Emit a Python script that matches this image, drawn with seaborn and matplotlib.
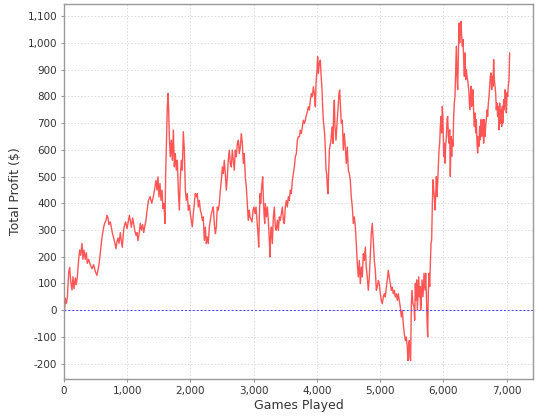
import matplotlib
matplotlib.use("Agg")
import matplotlib.pyplot as plt
import matplotlib.ticker as mticker
import seaborn as sns

# values (games played vs running profit in $)
games = [
    0, 21, 37, 53, 74, 90, 105, 126, 142, 158, 179, 195, 211, 232, 248, 264, 285, 300, 316, 337,
    353, 369, 390, 416, 443, 469, 495, 522, 538, 559, 574, 590, 606, 627, 643, 664, 680, 696, 711, 733,
    748, 764, 785, 801, 822, 838, 854, 870, 891, 906, 922, 943, 959, 975, 996, 1012, 1033, 1049, 1064, 1086,
    1101, 1117, 1138, 1154, 1170, 1191, 1207, 1223, 1244, 1260, 1275, 1296, 1312, 1335, 1361, 1388, 1414,
    1439, 1455, 1471, 1486, 1502, 1518, 1534, 1550, 1565, 1581, 1597, 1608, 1623, 1634, 1645, 1655, 1666, 1681, 1697, 1713,
    1729, 1745, 1760, 1776, 1792, 1808, 1824, 1840, 1855, 1871, 1887, 1903, 1919, 1934, 1950, 1966, 1982, 1998, 2013, 2029,
    2045, 2061, 2077, 2092, 2108, 2124, 2140, 2156, 2172, 2187, 2203, 2219, 2235, 2251, 2266, 2282, 2298, 2314, 2330, 2345,
    2361, 2377, 2393, 2409, 2424, 2440, 2456, 2472, 2488, 2504, 2519, 2535, 2551, 2567, 2583, 2598, 2614, 2630, 2646, 2662,
    2677, 2693, 2709, 2725, 2741, 2757, 2772, 2788, 2804, 2820, 2836, 2851, 2867, 2883, 2899, 2914, 2930, 2941,
    2973, 2989, 3005, 3021, 3036, 3052, 3068, 3079, 3089, 3100, 3110, 3126, 3142, 3152, 3163, 3174, 3184, 3200, 3216, 3231,
    3247, 3258, 3268, 3279, 3295, 3311, 3326, 3342, 3358, 3374, 3390, 3405, 3421, 3437, 3453, 3469, 3484, 3500, 3516, 3532,
    3548, 3563, 3579, 3595, 3611, 3627, 3643, 3658, 3674, 3690, 3706, 3722, 3737, 3753, 3769, 3785, 3801, 3816, 3832, 3848,
    3864, 3880, 3895, 3911, 3927, 3943, 3959, 3975, 3985, 4001, 4011, 4022, 4038, 4054, 4064, 4080, 4090, 4101, 4112, 4122,
    4133, 4143, 4154, 4164, 4175, 4185, 4196,
    4222, 4238, 4253, 4264, 4275, 4285, 4301, 4317, 4332, 4348, 4359, 4369, 4385, 4401, 4417, 4433, 4448, 4464, 4480, 4496,
    4512, 4527, 4543, 4559, 4575, 4591, 4607, 4622, 4638, 4654, 4670, 4686, 4701, 4717, 4733, 4749, 4765, 4780, 4796, 4812,
    4828, 4844, 4859, 4875, 4891, 4907, 4923, 4939, 4954, 4970, 4986, 5002, 5018, 5033, 5049, 5065, 5081, 5097, 5112, 5128,
    5144, 5160, 5176, 5191, 5207, 5223, 5239, 5255, 5271, 5286, 5302, 5318, 5334, 5350, 5365, 5381, 5397, 5413, 5429, 5439,
    5450, 5460, 5471, 5481, 5492, 5502, 5518,
    5535, 5545, 5556, 5566, 5577, 5588, 5598, 5609, 5619, 5630, 5640, 5651, 5661, 5677, 5693, 5709, 5719, 5730, 5740, 5751,
    5761, 5772, 5783, 5793, 5804, 5814, 5825, 5835, 5846, 5856, 5867, 5877, 5888, 5898, 5909, 5920, 5930, 5941, 5951, 5962,
    5972, 5983, 5993, 6004, 6014, 6025, 6035, 6046, 6057, 6067, 6078, 6088, 6099, 6109, 6120, 6130, 6141, 6151, 6162, 6172,
    6183, 6194, 6204, 6215, 6225, 6236, 6246, 6257, 6267, 6278, 6288, 6299, 6310, 6320, 6331, 6341, 6352, 6362, 6373, 6389,
    6404, 6415, 6425, 6436, 6447, 6457, 6468, 6478, 6489, 6499, 6510, 6520, 6531, 6541, 6552, 6562, 6573, 6584, 6594, 6605,
    6615, 6626, 6636, 6647, 6657, 6668, 6678, 6689, 6699, 6710, 6721, 6731, 6742, 6752, 6763, 6773, 6784, 6794, 6805, 6815,
    6826, 6836, 6847, 6857, 6868, 6878, 6889, 6900, 6910, 6921, 6931, 6942, 6952, 6963, 6973, 6984, 6995, 7005, 7016, 7026,
    7037, 7047,
]
profit = [
    -30, 45, 25, 45, 140, 160, 110, 75, 125, 80, 120, 95, 125, 190, 225, 205, 250, 190, 225, 190,
    215, 175, 190, 170, 155, 170, 145, 130, 150, 180, 215, 250, 280, 310, 325, 335, 355, 345, 320, 330,
    310, 290, 270, 255, 230, 255, 270, 250, 290, 260, 235, 300, 320, 330, 305, 325, 355, 335, 310, 345,
    325, 300, 280, 290, 260, 290, 325, 300, 320, 290, 310, 335, 370, 410, 425, 400, 425,
    461, 486, 449, 499, 424, 474, 411, 449, 380, 399, 324, 511, 649, 761, 811, 749, 649, 574, 636, 561,
    674, 536, 586, 524, 561, 449, 374, 499, 561, 524, 668, 599, 449, 411, 436, 374, 393, 361, 336, 311,
    361, 399, 436, 424, 436, 386, 411, 374, 361, 336, 349, 261, 311, 249, 274, 249, 311, 336, 361, 374,
    386, 324, 286, 311, 386, 374, 399, 449, 486, 536, 511, 561, 511, 449, 499, 561, 599, 549, 536, 599,
    561, 524, 599, 574, 624, 636, 586, 611, 661, 624, 549, 586, 499, 461, 399, 336, 374, 349,
    330, 374, 386, 361, 386, 336, 286, 236, 349, 436, 399, 461, 499, 424, 361, 324, 399, 349, 386, 336,
    261, 199, 286, 311, 249, 349, 386, 311, 299, 336, 299, 349, 336, 361, 386, 336, 324, 386, 411, 386,
    424, 411, 449, 436, 486, 511, 536, 574, 586, 636, 649, 649, 674, 661, 686, 711, 699, 711, 730, 742,
    761, 749, 786, 811, 799, 836, 811, 761, 849, 899, 949, 886, 924, 936, 886, 824, 761, 711, 686, 661,
    599, 524, 511, 461, 436, 511, 599,
    636, 686, 624, 736, 786, 686, 636, 699, 749, 811, 824, 774, 699, 711, 599, 661, 611, 549, 611, 524,
    511, 486, 424, 386, 324, 349, 311, 249, 174, 124, 186, 99, 161, 124, 211, 186, 236, 161, 124, 74,
    124, 211, 286, 324, 261, 186, 149, 74, 86, 111, 99, 61, 36, 24, 49, 61, 49, 86, 111, 149,
    124, 99, 74, 86, 61, 74, 49, 61, 36, 61, 36, 11, -26, -1, -51, -89, -114, -101, -139, -189,
    -139, -114, -176, -189, 11, 74, 24,
    13, -38, 100, 38, 113, 0, 63, 125, 50, 88, 0, 38, 113, 50, 138, 75, 138, 63, -38, -100,
    63, 138, 88, 175, 250, 263, 400, 488, 450, 425, 375, 425, 500, 425, 475, 538, 600, 625, 688, 725,
    663, 763, 713, 575, 625, 550, 613, 650, 713, 725, 650, 625, 675, 500, 650, 575, 638, 613, 725, 775,
    800, 900, 988, 875, 825, 950, 1075, 1000, 1050, 1081, 1025, 988, 1013, 938, 875, 963, 863, 900, 875, 850,
    813, 750, 788, 838, 763, 800, 825, 738, 688, 738, 663, 713, 625, 588, 650, 613, 688, 638, 713, 650,
    700, 713, 625, 713, 650, 688, 713, 750, 725, 775, 800, 838, 875, 888, 825, 875, 838, 938, 863, 838,
    813, 750, 775, 725, 763, 675, 775, 700, 750, 688, 763, 700, 788, 750, 825, 813, 738, 813, 800, 838,
    863, 963,
]

x_ticks = [0, 1000, 2000, 3000, 4000, 5000, 6000, 7000]
y_ticks = [-200, -100, 0, 100, 200, 300, 400, 500, 600, 700, 800, 900, 1000, 1100]

sns.set_style("white")
plt.rcParams['font.family'] = ['DejaVu Sans']

fig, ax = plt.subplots(figsize=(5.4, 4.2), dpi=100)
fig.subplots_adjust(left=0.1185, right=0.987, top=0.9905, bottom=0.0976)

sns.lineplot(x=games, y=profit, estimator=None, sort=False, color='#FF5555', linewidth=1.0, ax=ax)
ax.axhline(0, color='#4040ff', linewidth=0.7, linestyle=(0, (2, 2)))

ax.set_xlim(0, 7416)
ax.set_ylim(-258, 1146)
ax.set_xticks(x_ticks)
ax.set_yticks(y_ticks)
ax.xaxis.set_major_formatter(mticker.FuncFormatter(lambda v, p: f"{int(v):,}"))
ax.yaxis.set_major_formatter(mticker.FuncFormatter(lambda v, p: f"{int(v):,}"))

ax.grid(True, color='#d8d8d8', linestyle=(0, (2, 2)), linewidth=0.6)
ax.set_axisbelow(True)
for side in ax.spines.values():
    side.set_color('#999999')
    side.set_linewidth(1.0)

ax.tick_params(axis='both', direction='out', length=2, width=0.8, color='#999999',
               labelsize=7.5, labelcolor='#333333', pad=3, left=True, bottom=True)
ax.set_xlabel('Games Played', fontsize=9, color='#333333', labelpad=2)
ax.set_ylabel('Total Profit (\\$)', fontsize=9, color='#333333', labelpad=4)

fig.savefig('out.png', dpi=100)
